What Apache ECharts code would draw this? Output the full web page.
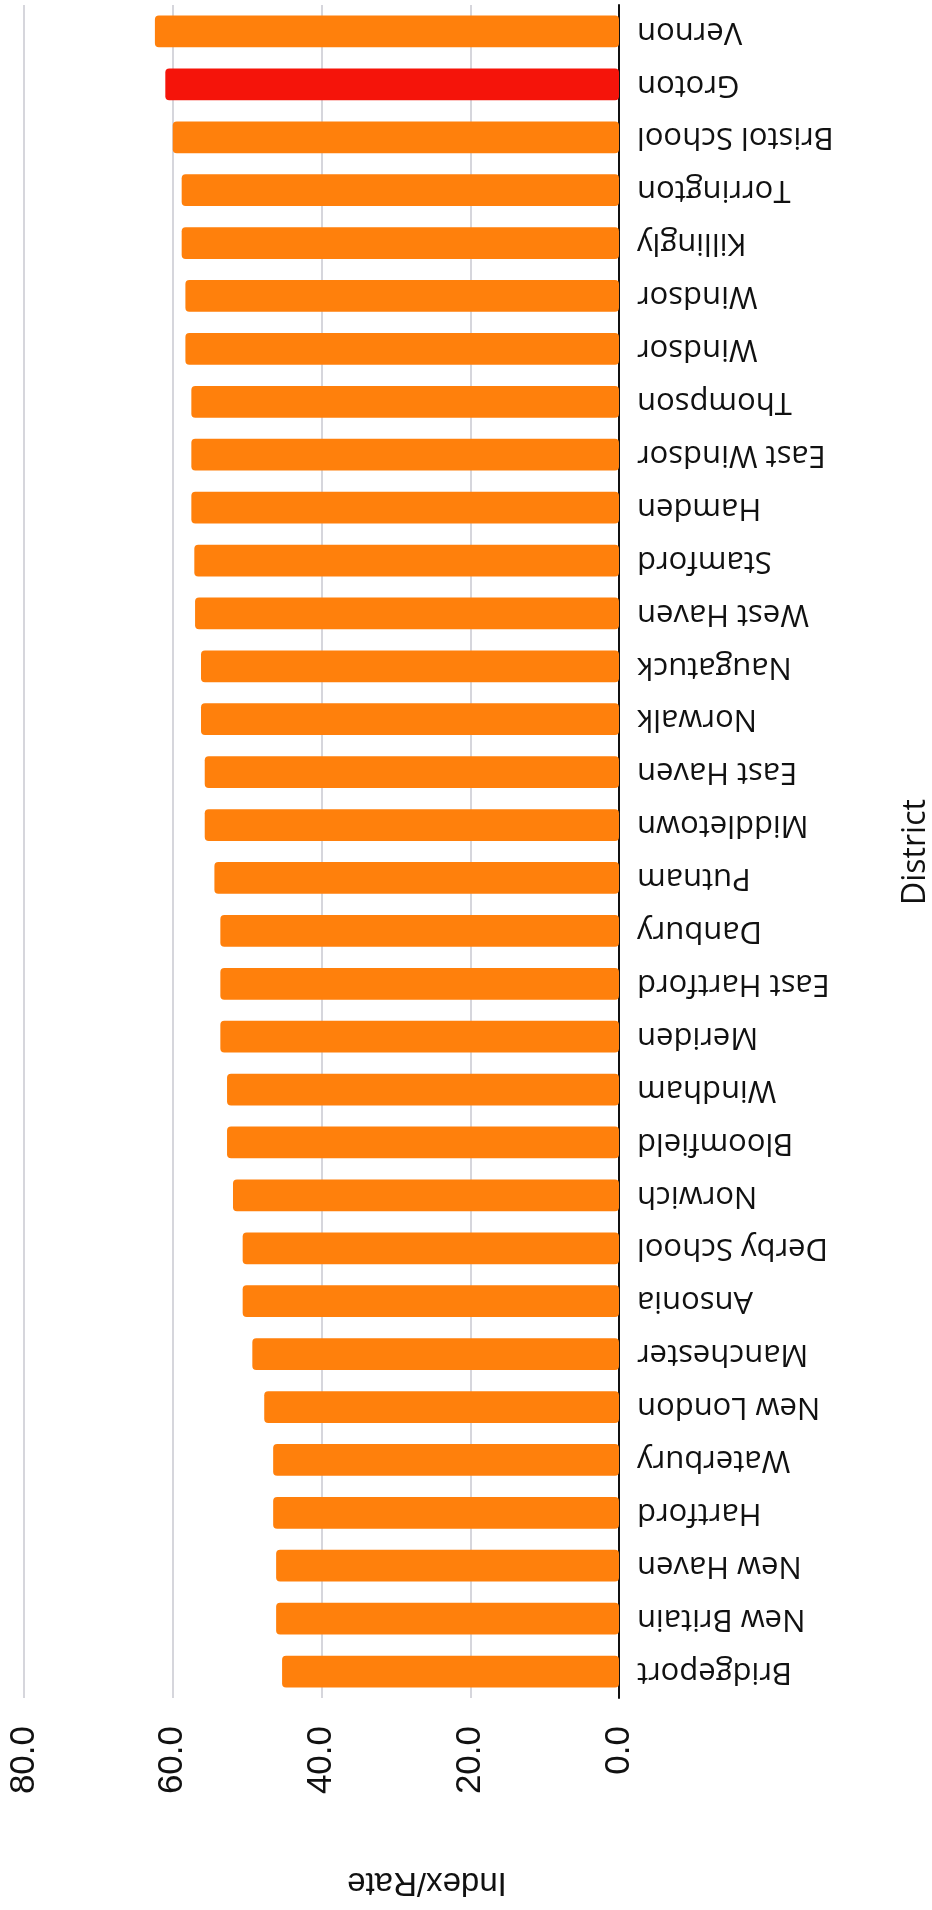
<!DOCTYPE html>
<html>
<head>
<meta charset="utf-8">
<script src="https://cdn.jsdelivr.net/npm/echarts@6/dist/echarts.min.js"></script>
<style>
html,body{margin:0;padding:0;background:#fff;}
#chart{width:932px;height:1910px;}
</style>
</head>
<body>
<div id="chart"></div>
<script>
// Categories listed bottom to top
const districts = ['Bridgeport','New Britain','New Haven','Hartford','Waterbury','New London','Manchester','Ansonia','Derby School','Norwich','Bloomfield','Windham','Meriden','East Hartford','Danbury','Putnam','Middletown','East Haven','Norwalk','Naugatuck','West Haven','Stamford','Hamden','East Windsor','Thompson','Windsor','Windsor','Killingly','Torrington','Bristol School','Groton','Vernon'];
const indexRate = [45.3,46.1,46.1,46.5,46.5,47.7,49.3,50.6,50.6,51.9,52.7,52.7,53.6,53.6,53.6,54.4,55.7,55.7,56.2,56.2,57.0,57.1,57.5,57.5,57.5,58.3,58.3,58.8,58.8,60.0,61.0,62.4];
const highlightDistrict = 'Groton';
const valueTicks = [0, 20, 40, 60, 80];
const valueAxisTitle = 'Index/Rate';
const categoryAxisTitle = 'District';

const chart = echarts.init(document.getElementById('chart'), null, {renderer: 'canvas'});
const seriesData = indexRate.map((v, i) => ({
  value: v,
  itemStyle: { color: districts[i] === highlightDistrict ? '#F5140A' : '#FF800C' }
}));

chart.setOption({
  animation: false,
  backgroundColor: '#ffffff',
  grid: { left: 24, right: 313, top: 5, bottom: 212, containLabel: false },
  xAxis: {
    type: 'value',
    inverse: true,
    min: valueTicks[0],
    max: valueTicks[valueTicks.length - 1],
    interval: 20,
    axisLine: { show: false },
    axisTick: { show: false },
    splitLine: { show: true, lineStyle: { color: '#D6D6DC', width: 2 } },
    axisLabel: {
      rotate: 90,
      margin: 28,
      fontFamily: 'Liberation Sans',
      fontSize: 35,
      color: '#111',
      formatter: v => v.toFixed(1)
    }
  },
  yAxis: {
    type: 'category',
    position: 'right',
    data: districts,
    axisLine: { show: true, lineStyle: { color: '#111', width: 2 } },
    axisTick: { show: false },
    axisLabel: {
      rotate: 180,
      align: 'right',
      verticalAlign: 'middle',
      margin: 18,
      fontFamily: 'Open Sans',
      fontSize: 31,
      color: '#111',
      interval: 0
    }
  },
  graphic: [
    {
      type: 'text',
      x: 427, y: 1882,
      rotation: Math.PI,
      style: {
        text: valueAxisTitle,
        fontFamily: 'Liberation Sans',
        fontSize: 33,
        fill: '#111',
        textAlign: 'center',
        textVerticalAlign: 'middle'
      }
    },
    {
      type: 'text',
      x: 916, y: 852,
      rotation: Math.PI / 2,
      style: {
        text: categoryAxisTitle,
        fontFamily: 'Open Sans',
        fontSize: 32,
        fill: '#111',
        textAlign: 'center',
        textVerticalAlign: 'middle'
      }
    }
  ],
  series: [{
    type: 'bar',
    data: seriesData,
    barCategoryGap: '40%',
    itemStyle: { borderRadius: 4 }
  }]
});
</script>
</body>
</html>
